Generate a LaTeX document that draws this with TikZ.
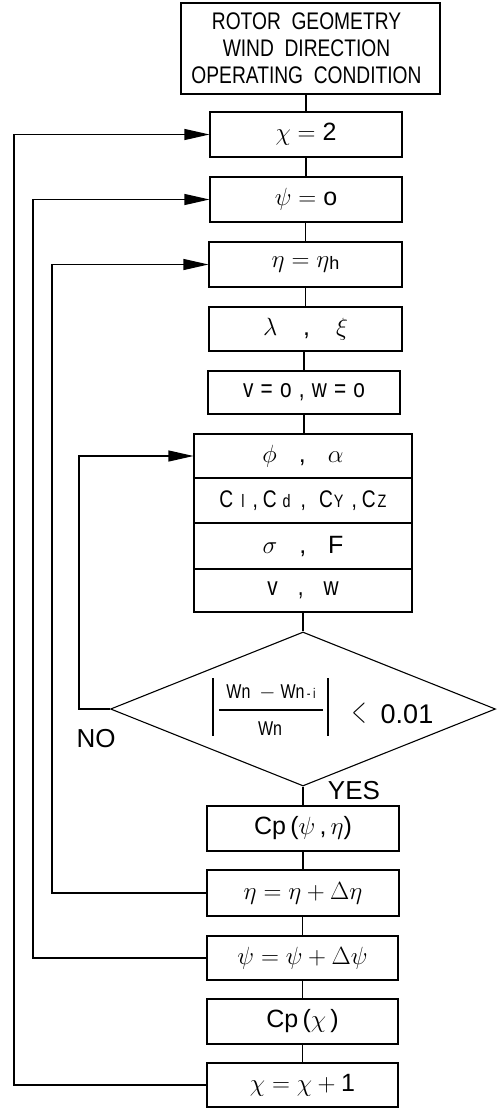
\documentclass[tikz,border=0pt]{standalone}
\usepackage{amsmath}
\usepackage{fontspec}
\setmainfont[FakeStretch=0.8]{Liberation Sans}
\newfontfamily\widefont{Liberation Sans}
\usetikzlibrary{arrows.meta,shapes.geometric}
\newcommand{\smallf}[1]{{\fontsize{18}{18}\selectfont #1}}
\newcommand{\tinyf}[1]{{\fontsize{14}{14}\selectfont #1}}
\begin{document}
\begin{tikzpicture}[x=1pt,y=-1pt,
  box/.style={draw, line width=1.1pt, inner sep=0pt, align=center,
    font=\widefont\fontsize{25}{27}\selectfont},
  tbox/.style={box, font=\fontsize{24}{27}\selectfont},
  vbox/.style={box, font=\fontsize{26}{27}\selectfont},
  dia/.style={draw, diamond, line width=1.1pt, inner sep=0pt, aspect=2.5,
    minimum width=385pt, minimum height=154pt},
  lab/.style={inner sep=0pt, font=\widefont\fontsize{26}{27}\selectfont},
  frac/.style={inner sep=0pt, font=\fontsize{20}{20}\selectfont},
  link/.style={line width=1.1pt},
  arr/.style={line width=1.1pt, -{Triangle[length=25pt,width=11pt]}}]
\useasboundingbox (0,0) rectangle (497,1108);

\node[tbox, minimum width=259pt, minimum height=91pt] (top) at (310.5,48.5)
  {\hspace*{-8pt}ROTOR\ \ GEOMETRY\\\hspace*{-8pt}WIND\ \ DIRECTION\\\hspace*{-8pt}OPERATING\ \ CONDITION};
\node[box, minimum width=192pt, minimum height=45pt] (chi2) at (306,134.5) {$\chi=\hbox{2}$};
\node[box, minimum width=192pt, minimum height=45pt] (psi0) at (306,199.5) {$\psi=\hbox{o}$};
\node[box, minimum width=193pt, minimum height=45pt] (eta) at (305.5,264.5) {$\eta=\eta$\raisebox{-2pt}{\smallf{h}}};
\node[box, minimum width=193pt, minimum height=44pt] (lam) at (305.5,329) {$\lambda$\hspace{26pt},\hspace{26pt}$\xi$};
\node[vbox, minimum width=192pt, minimum height=43pt] (v0) at (304,392.5) {v\;=\;o\;,\;w\;=\;o};

\node[box, minimum width=218pt, minimum height=44pt] (phi) at (303,456) {$\phi$\hspace{22pt},\hspace{22pt}$\alpha$};
\node[tbox, minimum width=218pt, minimum height=45pt] (cc) at (303,500.5)
  {C\hspace{8pt}\smallf{l}\hspace{8pt},\hspace{5pt}C\hspace{6pt}\smallf{d}\hspace{10pt},\hspace{13pt}C\hspace{1pt}\smallf{Y}\hspace{8pt},\hspace{5pt}C\hspace{2pt}\smallf{Z}};
\node[box, minimum width=218pt, minimum height=46pt] (sig) at (303,546) {$\sigma$\hspace{22pt},\hspace{22pt}F};
\node[vbox, minimum width=218pt, minimum height=43pt] (vw) at (303,590.5) {v\hspace{20pt},\hspace{20pt}w};

\node[dia] (dec) at (303,709) {};
\node[frac] (num) at (271,692) {Wn\hspace{9pt}$-$\hspace{5pt}Wn\tinyf{\,-\,i}};
\node[frac] (den) at (270,729) {Wn};
\node[lab] (lt) at (359,713) {\scalebox{0.75}[1.5]{$<$}};
\node[lab, font=\widefont\fontsize{27}{27}\selectfont] (val) at (407,714) {0.01};
\node[lab] (no) at (96,739) {NO};
\node[lab] (yes) at (354,791) {YES};

\node[box, minimum width=192pt, minimum height=45pt] (cp1) at (303,828.5) {Cp\,($\psi$\,,\,$\eta$)};
\node[box, minimum width=192pt, minimum height=46pt] (etainc) at (303,893) {$\eta=\eta+\Delta\eta$};
\node[box, minimum width=191pt, minimum height=44pt] (psiinc) at (302.5,958) {$\psi=\psi+\Delta\psi$};
\node[box, minimum width=191pt, minimum height=45pt] (cpchi) at (302.5,1021.5) {Cp\,($\chi$\,)};
\node[box, minimum width=191pt, minimum height=44pt] (chiinc) at (302.5,1085) {$\chi=\chi+\hbox{1}$};

% fraction rule and absolute-value bars
\draw[link] (219,710) -- (323,710);
\draw[link] (213,678) -- (213,736);
\draw[link] (328,678) -- (328,736);

% straight connectors
\draw[link] (chi2.north) -- (chi2.north |- top.south);
\draw[link] (psi0.north) -- (psi0.north |- chi2.south);
\draw[link] (eta.north) -- (eta.north |- psi0.south);
\draw[link] (lam.north) -- (lam.north |- eta.south);
\draw[link] (v0.north) -- (v0.north |- lam.south);
\draw[link] (v0.south) -- (v0.south |- phi.north);
\draw[link] (vw.south) -- (dec.north);
\draw[link] (dec.south) -- (cp1.north);
\draw[link] (etainc.north) -- (etainc.north |- cp1.south);
\draw[link] (psiinc.north) -- (psiinc.north |- etainc.south);
\draw[link] (cpchi.north) -- (cpchi.north |- psiinc.south);
\draw[link] (chiinc.north) -- (chiinc.north |- cpchi.south);

% feedback loops
\coordinate (xa) at (14,0);
\coordinate (xb) at (33,0);
\coordinate (xc) at (52,0);
\coordinate (xd) at (79,0);
\draw[arr] (chiinc.west) -- (chiinc.west -| xa) |- (chi2.west);
\draw[arr] (psiinc.west) -- (psiinc.west -| xb) |- (psi0.west);
\draw[arr] (etainc.west) -- (etainc.west -| xc) |- (eta.west);
\draw[arr] (dec.west) -- (dec.west -| xd) |- (phi.west);
\end{tikzpicture}
\end{document}
